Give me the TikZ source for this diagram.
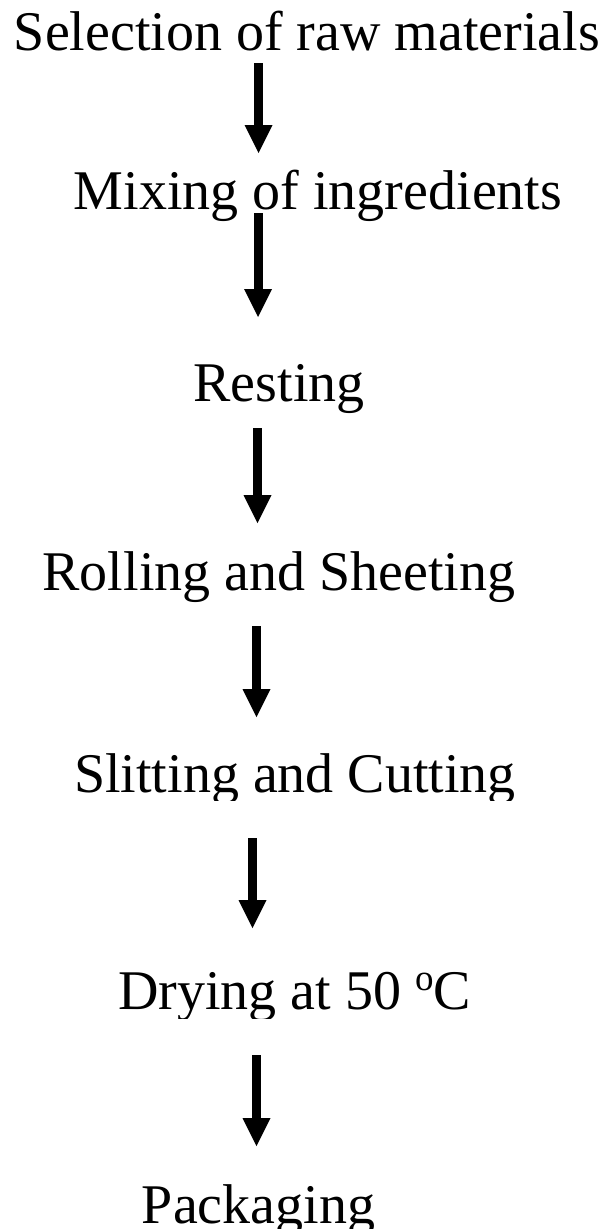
\documentclass[tikz,border=0pt]{standalone}
\usepackage{fontspec}
\setmainfont{Liberation Serif}
\usetikzlibrary{arrows.meta}

% raised small "o" used as the degree mark
\newcommand{\degsup}{\raisebox{18.5pt}{\fontsize{37}{37}\selectfont o}}

\tikzset{
  stage/.style={anchor=base, inner sep=0pt, outer sep=0pt,
    font=\fontsize{56}{60}\selectfont},
  flow/.style={line width=9pt,
    -{Triangle[width=28pt,length=28pt,line width=0pt]}}
}

\begin{document}
\begin{tikzpicture}[x=1pt,y=-1pt]
\useasboundingbox (0,0) rectangle (605,1229);

% process stages, placed by baseline
\node[stage] (sel)  at (307,50)   {Selection of raw materials};
\node[stage] (mix)  at (318,209)  {Mixing of ingredients};
\node[stage] (rest) at (279,401)  {Resting};
\node[stage] (roll) at (279,590)  {Rolling and Sheeting};
\begin{scope}
  \clip (0,700) rectangle (605,800);
  \node[stage] (slit) at (295,792) {Slitting and Cutting};
\end{scope}
\begin{scope}
  \clip (0,930) rectangle (605,1018);
  \node[stage] (dry) at (294.5,1009) {Drying at 50 \degsup C};
\end{scope}
\node[stage] (pack) at (258.5,1223) {Packaging};

% arrow end points between consecutive stages
\coordinate (a1s) at (258.5,63);   \coordinate (a1e) at (258.5,153);
\coordinate (a2s) at (258,213);    \coordinate (a2e) at (258,317);
\coordinate (a3s) at (257.5,428);  \coordinate (a3e) at (257.5,523);
\coordinate (a4s) at (256.5,626);  \coordinate (a4e) at (256.5,717);
\coordinate (a5s) at (252.5,838);  \coordinate (a5e) at (252.5,928);
\coordinate (a6s) at (256.5,1055); \coordinate (a6e) at (256.5,1146);

\draw[flow] (a1s) -- (a1e);
\draw[flow] (a2s) -- (a2e);
\draw[flow] (a3s) -- (a3e);
\draw[flow] (a4s) -- (a4e);
\draw[flow] (a5s) -- (a5e);
\draw[flow] (a6s) -- (a6e);
\end{tikzpicture}
\end{document}
